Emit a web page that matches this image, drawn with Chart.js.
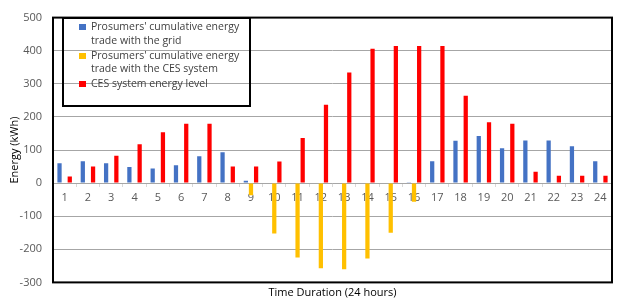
<!DOCTYPE html>
<html><head><meta charset="utf-8">
<script src="https://cdn.jsdelivr.net/npm/chart.js@4"></script>
<style>
html,body{margin:0;padding:0;background:#fff;}
#wrap{position:relative;width:623px;height:300px;}
#legend{position:absolute;left:62px;top:17px;width:185px;height:85px;border:2px solid #000;font-family:"Open Sans",sans-serif;font-size:10.5px;color:#404040;line-height:13.8px;padding:1px 0 0 0;}
.item{position:relative;padding-left:27px;margin-bottom:1px;}
.sw{position:absolute;left:15px;top:4px;width:7px;height:6px;}
</style></head>
<body>
<div id="wrap"><canvas id="c" width="623" height="300"></canvas><div id="legend"></div></div>
<script>
const hours = ['1','2','3','4','5','6','7','8','9','10','11','12','13','14','15','16','17','18','19','20','21','22','23','24'];
const gridTrade = [60,66,60,49,44,54,81,93,7,0,0,0,0,0,0,1,66,128,142,105,129,129,111,66];
const cesTrade = [0,0,0,0,0,0,0,0,-37,-152,-225,-257,-260,-228,-150,-56,0,0,0,0,0,0,0,0];
const cesLevel = [20,50,83,117,154,179,179,50,50,65,136,237,334,406,414,414,414,264,184,179,34,22,22,22];
const seriesNames = ["Prosumers' cumulative energy trade with the grid","Prosumers' cumulative energy trade with the CES system","CES system energy level"];
const legendLines = [["Prosumers' cumulative energy","trade with the grid"],["Prosumers' cumulative energy","trade with the CES system"],["CES system energy level"]];
const colors = ['#4472C4','#FFC000','#FF0000'];

const framePlugin = {
  id:'frame',
  afterDraw(chart){
    const a = chart.chartArea, ctx = chart.ctx;
    ctx.save();
    ctx.strokeStyle = '#000'; ctx.lineWidth = 2;
    ctx.strokeRect(a.left, a.top, a.right - a.left, a.bottom - a.top);
    ctx.restore();
  }
};

const chart = new Chart(document.getElementById('c'), {
  type:'bar',
  data:{
    labels:hours,
    datasets:[
      {label:seriesNames[0], data:gridTrade, backgroundColor:colors[0]},
      {label:seriesNames[1], data:cesTrade, backgroundColor:colors[1]},
      {label:seriesNames[2], data:cesLevel, backgroundColor:colors[2]}
    ]
  },
  options:{
    responsive:false, animation:false, devicePixelRatio:1,
    categoryPercentage:0.66, barPercentage:0.83,
    layout:{padding:{top:12,right:11,left:0,bottom:0}},
    plugins:{
      legend:{display:false}, tooltip:{enabled:false},
      title:{display:true, fullSize:false, position:'bottom', text:'Time Duration (24 hours)', color:'#000', font:{family:'"Open Sans", sans-serif', size:11, weight:'normal'}, padding:{top:4,bottom:0}}
    },
    scales:{
      x:{
        position:{y:0},
        grid:{display:true, drawOnChartArea:false, drawTicks:true, tickLength:4, color:'#d9d9d9', offset:true},
        border:{display:false},
        ticks:{color:'#595959', font:{family:'"Open Sans", sans-serif', size:11}, padding:4, maxRotation:0, autoSkip:false}
      },
      y:{
        min:-300, max:500,
        ticks:{stepSize:100, color:'#595959', font:{family:'"Open Sans", sans-serif', size:11}, padding:11},
        grid:{color:'#a6a6a6', lineWidth:1, drawTicks:false},
        border:{display:false},
        title:{display:true, text:'Energy (kWh)', color:'#000', font:{family:'"Open Sans", sans-serif', size:11}, padding:{top:8,bottom:0}},
        afterFit(s){ s.width = 53; }
      }
    }
  },
  plugins:[framePlugin]
});

const lg = document.getElementById('legend');
chart.data.datasets.forEach((ds,i)=>{
  const d = document.createElement('div'); d.className='item';
  const sw = document.createElement('span'); sw.className='sw'; sw.style.background = ds.backgroundColor;
  d.appendChild(sw);
  legendLines[i].forEach((t,j)=>{ if(j) d.appendChild(document.createElement('br')); d.appendChild(document.createTextNode(t)); });
  lg.appendChild(d);
});
</script>
</body></html>
